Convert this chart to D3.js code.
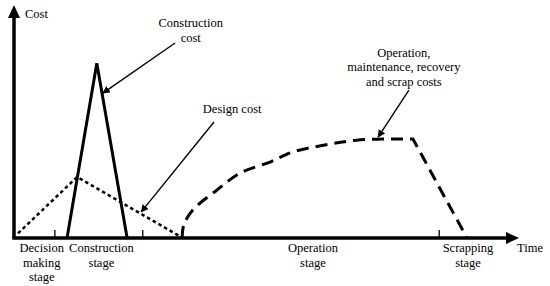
<!DOCTYPE html>
<html>
<head>
<meta charset="utf-8">
<script src="https://cdn.jsdelivr.net/npm/d3@7"></script>
<style>
  body { margin: 0; background: #fff; }
</style>
</head>
<body>
<div id="container"></div>
<script>
// time / cost in arbitrary units (0-100 on both axes)
const constructionCost = [[10.5, 0], [16.4, 75], [22.4, 0]];
const designCost = [[0.8, 2], [12.5, 26.2], [33.1, 0.4]];
const operationArc = [[33.3, 0], [33.6, 5.5], [35.4, 12], [40.2, 20.6], [44.8, 27.9],
  [50.7, 32.6], [55.2, 36.9], [62.6, 40.3], [67.9, 42], [73.1, 42.5]];
const operationTail = [[73.1, 42.5], [79, 42.5], [89.7, 0]];
const stageTicks = [8.1, 25.5, 84.2];
const stageLabels = [
  { x: 5.5, lines: ["Decision", "making", "stage"] },
  { x: 17.3, lines: ["Construction", "stage"] },
  { x: 59.2, lines: ["Operation", "stage"] },
  { x: 89.9, lines: ["Scrapping", "stage"] }
];
// callouts: text position, arrow from -> to
const callouts = [
  { x: 35.0, y: 90.5, lines: ["Construction", "cost"], from: [31.9, 83.7], to: [17.6, 62.2] },
  { x: 43.2, y: 53.6, lines: ["Design cost"], from: [39.6, 49.8], to: [25.2, 11.2] },
  { x: 77.2, y: 77.7, lines: ["Operation,", "maintenance, recovery", "and scrap costs"], from: [78.2, 63.5], to: [72.1, 43.3] }
];

const width = 550, height = 286;
const font = "'Liberation Serif', 'Times New Roman', Times, serif";
const svg = d3.select("#container").append("svg")
  .attr("width", width).attr("height", height)
  .attr("font-family", font).attr("font-size", 12.5);

const x = d3.scaleLinear().domain([0, 100]).range([14, 519]);
const y = d3.scaleLinear().domain([0, 100]).range([238, 5]);

svg.append("defs").append("marker")
  .attr("id", "head")
  .attr("viewBox", "0 0 10 10")
  .attr("refX", 9).attr("refY", 5)
  .attr("markerWidth", 5.5).attr("markerHeight", 5.5)
  .attr("markerUnits", "strokeWidth")
  .attr("orient", "auto")
  .append("path").attr("d", "M0,0L10,5L0,10Z").attr("fill", "#000");

const line = d3.line().x(d => x(d[0])).y(d => y(d[1]));

// axes
svg.append("line")
  .attr("x1", x(0)).attr("y1", y(0)).attr("x2", x(0)).attr("y2", y(100) + 10)
  .attr("stroke", "#000").attr("stroke-width", 3.5);
svg.append("line")
  .attr("x1", x(0) - 1.75).attr("y1", y(0)).attr("x2", x(100) - 10).attr("y2", y(0))
  .attr("stroke", "#000").attr("stroke-width", 3.5);
svg.append("path")
  .attr("d", `M${x(0)},${y(100)}L${x(0) + 6},${y(100) + 13}L${x(0) - 6},${y(100) + 13}Z`)
  .attr("fill", "#000");
svg.append("path")
  .attr("d", `M${x(100)},${y(0)}L${x(100) - 13},${y(0) - 6}L${x(100) - 13},${y(0) + 6}Z`)
  .attr("fill", "#000");

svg.selectAll(".tick").data(stageTicks).join("line")
  .attr("x1", d => x(d)).attr("x2", d => x(d))
  .attr("y1", y(0)).attr("y2", y(0) - 8)
  .attr("stroke", "#000").attr("stroke-width", 1.3);

// curves
svg.append("path").datum(designCost)
  .attr("d", line).attr("fill", "none").attr("stroke", "#000")
  .attr("stroke-width", 2.5).attr("stroke-dasharray", "3.5 3");

svg.append("path").datum(constructionCost)
  .attr("d", line).attr("fill", "none").attr("stroke", "#000")
  .attr("stroke-width", 3).attr("stroke-linejoin", "miter");

const arcLine = d3.line().x(d => x(d[0])).y(d => y(d[1])).curve(d3.curveCatmullRom.alpha(0.5));
const opPath = arcLine(operationArc) + line(operationTail).replace(/^M/, "L");
svg.append("path")
  .attr("d", opPath).attr("fill", "none").attr("stroke", "#000")
  .attr("stroke-width", 3).attr("stroke-dasharray", "12 7");

// axis labels
svg.append("text").attr("x", x(0) + 11).attr("y", 18).text("Cost");
svg.append("text").attr("x", x(100) - 2).attr("y", 252).text("Time");

stageLabels.forEach(s => {
  svg.append("text")
    .attr("text-anchor", "middle")
    .selectAll("tspan").data(s.lines).join("tspan")
    .attr("x", x(s.x))
    .attr("y", (d, i) => 252 + i * 14.5)
    .text(d => d);
});

callouts.forEach(c => {
  svg.append("text")
    .attr("text-anchor", "middle")
    .selectAll("tspan").data(c.lines).join("tspan")
    .attr("x", x(c.x))
    .attr("y", (d, i) => y(c.y) + 14.5 * i)
    .text(d => d);
  svg.append("line")
    .attr("x1", x(c.from[0])).attr("y1", y(c.from[1]))
    .attr("x2", x(c.to[0])).attr("y2", y(c.to[1]))
    .attr("stroke", "#000").attr("stroke-width", 1.4)
    .attr("marker-end", "url(#head)");
});
</script>
</body>
</html>
